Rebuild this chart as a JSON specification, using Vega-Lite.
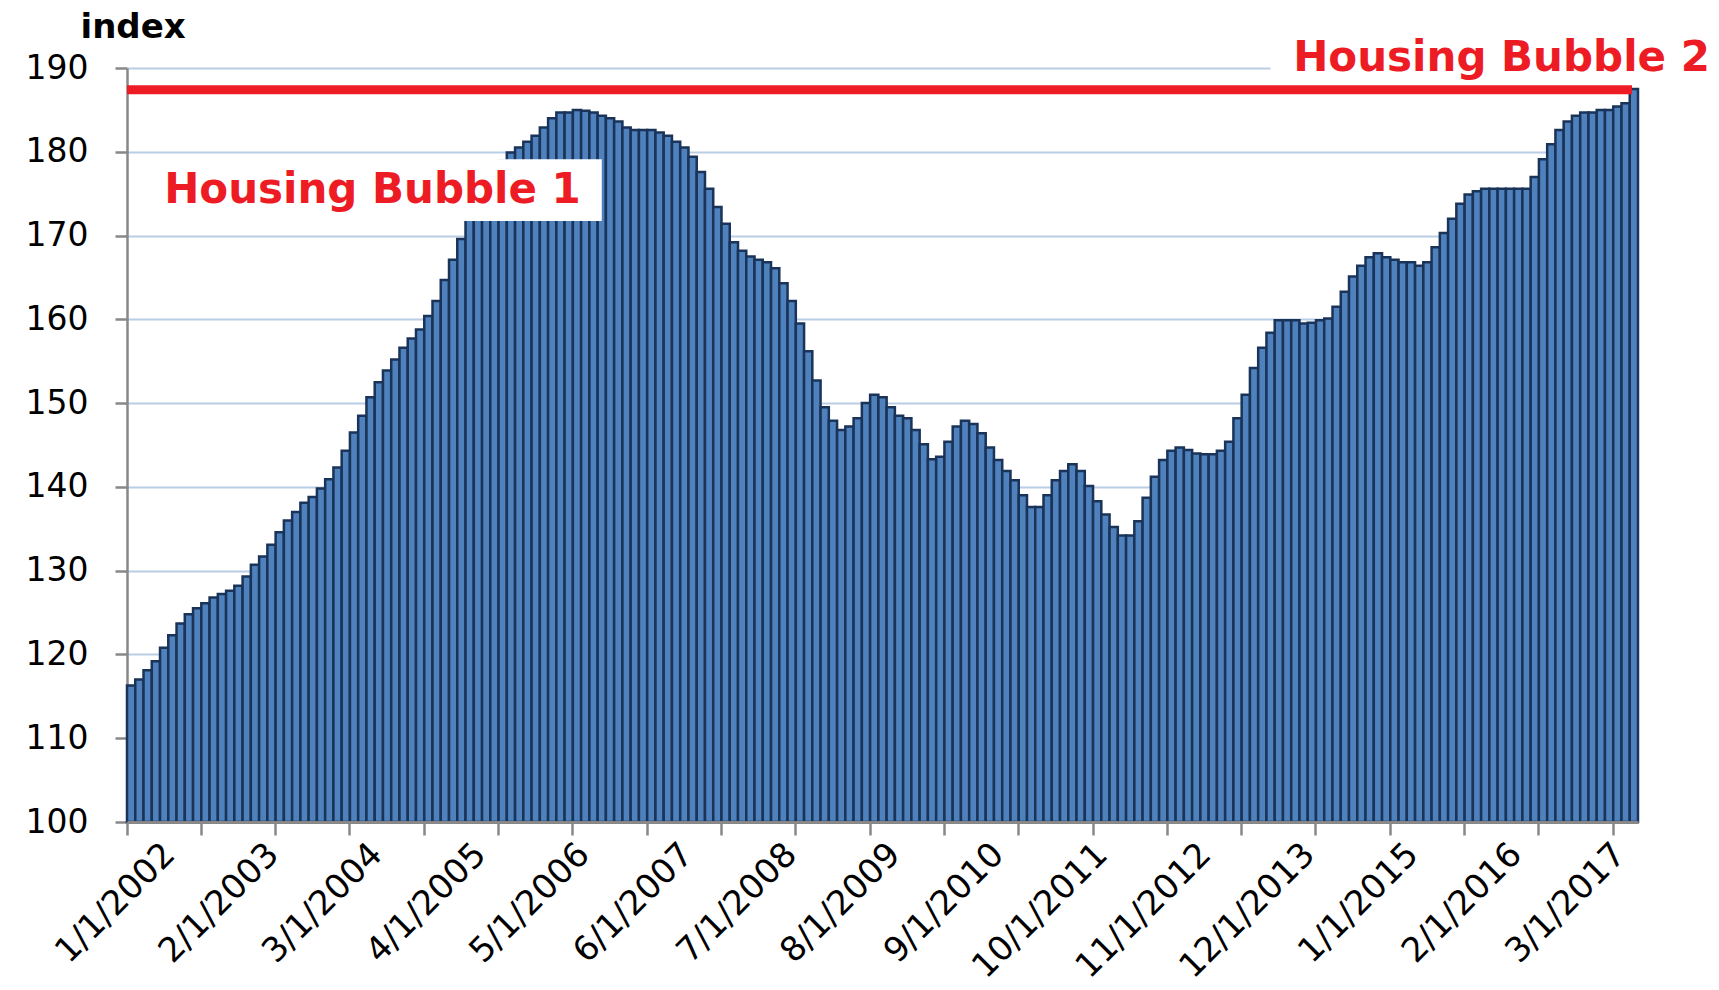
{
  "$schema": "https://vega.github.io/schema/vega-lite/v6.json",
  "autosize": "none",
  "width": 1511,
  "height": 754,
  "padding": {"left": 127, "top": 68, "right": 81, "bottom": 168},
  "background": "white",
  "config": {"view": {"stroke": null}, "font": "DejaVu Sans"},
  "datasets": {
    "hpi": [
      {"month": "1/1/2002", "index": 116.3}, {"month": "2/1/2002", "index": 117.0}, {"month": "3/1/2002", "index": 118.1}, {"month": "4/1/2002", "index": 119.2}, {"month": "5/1/2002", "index": 120.8}, {"month": "6/1/2002", "index": 122.3}, {"month": "7/1/2002", "index": 123.7}, {"month": "8/1/2002", "index": 124.8}, {"month": "9/1/2002", "index": 125.5}, {"month": "10/1/2002", "index": 126.1}, {"month": "11/1/2002", "index": 126.8}, {"month": "12/1/2002", "index": 127.2},
      {"month": "1/1/2003", "index": 127.6}, {"month": "2/1/2003", "index": 128.2}, {"month": "3/1/2003", "index": 129.3}, {"month": "4/1/2003", "index": 130.7}, {"month": "5/1/2003", "index": 131.7}, {"month": "6/1/2003", "index": 133.1}, {"month": "7/1/2003", "index": 134.6}, {"month": "8/1/2003", "index": 136.0}, {"month": "9/1/2003", "index": 137.0}, {"month": "10/1/2003", "index": 138.1}, {"month": "11/1/2003", "index": 138.8}, {"month": "12/1/2003", "index": 139.8},
      {"month": "1/1/2004", "index": 140.9}, {"month": "2/1/2004", "index": 142.3}, {"month": "3/1/2004", "index": 144.3}, {"month": "4/1/2004", "index": 146.5}, {"month": "5/1/2004", "index": 148.5}, {"month": "6/1/2004", "index": 150.7}, {"month": "7/1/2004", "index": 152.5}, {"month": "8/1/2004", "index": 153.9}, {"month": "9/1/2004", "index": 155.2}, {"month": "10/1/2004", "index": 156.6}, {"month": "11/1/2004", "index": 157.7}, {"month": "12/1/2004", "index": 158.8},
      {"month": "1/1/2005", "index": 160.4}, {"month": "2/1/2005", "index": 162.2}, {"month": "3/1/2005", "index": 164.7}, {"month": "4/1/2005", "index": 167.1}, {"month": "5/1/2005", "index": 169.6}, {"month": "6/1/2005", "index": 171.9}, {"month": "7/1/2005", "index": 174.0}, {"month": "8/1/2005", "index": 175.9}, {"month": "9/1/2005", "index": 177.5}, {"month": "10/1/2005", "index": 178.9}, {"month": "11/1/2005", "index": 179.9}, {"month": "12/1/2005", "index": 180.5},
      {"month": "1/1/2006", "index": 181.2}, {"month": "2/1/2006", "index": 181.9}, {"month": "3/1/2006", "index": 182.9}, {"month": "4/1/2006", "index": 184.0}, {"month": "5/1/2006", "index": 184.7}, {"month": "6/1/2006", "index": 184.7}, {"month": "7/1/2006", "index": 185.0}, {"month": "8/1/2006", "index": 184.9}, {"month": "9/1/2006", "index": 184.7}, {"month": "10/1/2006", "index": 184.3}, {"month": "11/1/2006", "index": 184.0}, {"month": "12/1/2006", "index": 183.6},
      {"month": "1/1/2007", "index": 182.9}, {"month": "2/1/2007", "index": 182.6}, {"month": "3/1/2007", "index": 182.6}, {"month": "4/1/2007", "index": 182.6}, {"month": "5/1/2007", "index": 182.3}, {"month": "6/1/2007", "index": 181.9}, {"month": "7/1/2007", "index": 181.2}, {"month": "8/1/2007", "index": 180.5}, {"month": "9/1/2007", "index": 179.4}, {"month": "10/1/2007", "index": 177.6}, {"month": "11/1/2007", "index": 175.6}, {"month": "12/1/2007", "index": 173.4},
      {"month": "1/1/2008", "index": 171.4}, {"month": "2/1/2008", "index": 169.2}, {"month": "3/1/2008", "index": 168.2}, {"month": "4/1/2008", "index": 167.5}, {"month": "5/1/2008", "index": 167.1}, {"month": "6/1/2008", "index": 166.8}, {"month": "7/1/2008", "index": 166.1}, {"month": "8/1/2008", "index": 164.3}, {"month": "9/1/2008", "index": 162.2}, {"month": "10/1/2008", "index": 159.5}, {"month": "11/1/2008", "index": 156.2}, {"month": "12/1/2008", "index": 152.7},
      {"month": "1/1/2009", "index": 149.5}, {"month": "2/1/2009", "index": 147.9}, {"month": "3/1/2009", "index": 146.8}, {"month": "4/1/2009", "index": 147.2}, {"month": "5/1/2009", "index": 148.2}, {"month": "6/1/2009", "index": 150.0}, {"month": "7/1/2009", "index": 151.0}, {"month": "8/1/2009", "index": 150.7}, {"month": "9/1/2009", "index": 149.5}, {"month": "10/1/2009", "index": 148.5}, {"month": "11/1/2009", "index": 148.2}, {"month": "12/1/2009", "index": 146.8},
      {"month": "1/1/2010", "index": 145.1}, {"month": "2/1/2010", "index": 143.3}, {"month": "3/1/2010", "index": 143.6}, {"month": "4/1/2010", "index": 145.4}, {"month": "5/1/2010", "index": 147.2}, {"month": "6/1/2010", "index": 147.9}, {"month": "7/1/2010", "index": 147.5}, {"month": "8/1/2010", "index": 146.4}, {"month": "9/1/2010", "index": 144.7}, {"month": "10/1/2010", "index": 143.2}, {"month": "11/1/2010", "index": 141.9}, {"month": "12/1/2010", "index": 140.8},
      {"month": "1/1/2011", "index": 139.0}, {"month": "2/1/2011", "index": 137.6}, {"month": "3/1/2011", "index": 137.6}, {"month": "4/1/2011", "index": 139.0}, {"month": "5/1/2011", "index": 140.8}, {"month": "6/1/2011", "index": 141.9}, {"month": "7/1/2011", "index": 142.7}, {"month": "8/1/2011", "index": 141.9}, {"month": "9/1/2011", "index": 140.1}, {"month": "10/1/2011", "index": 138.3}, {"month": "11/1/2011", "index": 136.7}, {"month": "12/1/2011", "index": 135.2},
      {"month": "1/1/2012", "index": 134.2}, {"month": "2/1/2012", "index": 134.2}, {"month": "3/1/2012", "index": 135.9}, {"month": "4/1/2012", "index": 138.7}, {"month": "5/1/2012", "index": 141.2}, {"month": "6/1/2012", "index": 143.2}, {"month": "7/1/2012", "index": 144.3}, {"month": "8/1/2012", "index": 144.7}, {"month": "9/1/2012", "index": 144.4}, {"month": "10/1/2012", "index": 144.0}, {"month": "11/1/2012", "index": 143.9}, {"month": "12/1/2012", "index": 143.9},
      {"month": "1/1/2013", "index": 144.3}, {"month": "2/1/2013", "index": 145.4}, {"month": "3/1/2013", "index": 148.2}, {"month": "4/1/2013", "index": 151.0}, {"month": "5/1/2013", "index": 154.2}, {"month": "6/1/2013", "index": 156.6}, {"month": "7/1/2013", "index": 158.4}, {"month": "8/1/2013", "index": 159.9}, {"month": "9/1/2013", "index": 159.9}, {"month": "10/1/2013", "index": 159.9}, {"month": "11/1/2013", "index": 159.5}, {"month": "12/1/2013", "index": 159.6},
      {"month": "1/1/2014", "index": 159.9}, {"month": "2/1/2014", "index": 160.1}, {"month": "3/1/2014", "index": 161.5}, {"month": "4/1/2014", "index": 163.3}, {"month": "5/1/2014", "index": 165.1}, {"month": "6/1/2014", "index": 166.4}, {"month": "7/1/2014", "index": 167.4}, {"month": "8/1/2014", "index": 167.9}, {"month": "9/1/2014", "index": 167.4}, {"month": "10/1/2014", "index": 167.1}, {"month": "11/1/2014", "index": 166.8}, {"month": "12/1/2014", "index": 166.8},
      {"month": "1/1/2015", "index": 166.4}, {"month": "2/1/2015", "index": 166.8}, {"month": "3/1/2015", "index": 168.6}, {"month": "4/1/2015", "index": 170.3}, {"month": "5/1/2015", "index": 172.0}, {"month": "6/1/2015", "index": 173.8}, {"month": "7/1/2015", "index": 174.9}, {"month": "8/1/2015", "index": 175.3}, {"month": "9/1/2015", "index": 175.6}, {"month": "10/1/2015", "index": 175.6}, {"month": "11/1/2015", "index": 175.6}, {"month": "12/1/2015", "index": 175.6},
      {"month": "1/1/2016", "index": 175.6}, {"month": "2/1/2016", "index": 175.6}, {"month": "3/1/2016", "index": 177.0}, {"month": "4/1/2016", "index": 179.1}, {"month": "5/1/2016", "index": 180.9}, {"month": "6/1/2016", "index": 182.6}, {"month": "7/1/2016", "index": 183.6}, {"month": "8/1/2016", "index": 184.3}, {"month": "9/1/2016", "index": 184.7}, {"month": "10/1/2016", "index": 184.7}, {"month": "11/1/2016", "index": 185.0}, {"month": "12/1/2016", "index": 185.0},
      {"month": "1/1/2017", "index": 185.4}, {"month": "2/1/2017", "index": 185.8}, {"month": "3/1/2017", "index": 187.5}
    ]
  },
  "resolve": {"scale": {"x": "independent"}, "axis": {"x": "independent"}},
  "layer": [
    {
      "resolve": {"axis": {"x": "independent"}},
      "layer": [
        {
          "data": {"name": "hpi"},
          "mark": {"type": "bar", "fill": "#4f81bd", "stroke": "#1a3358", "strokeWidth": 2.5},
          "encoding": {
            "x": {
              "field": "month", "type": "ordinal", "sort": null,
              "scale": {"paddingInner": 0, "paddingOuter": 0},
              "axis": {
                "orient": "bottom", "title": null, "grid": false, "labels": false,
                "values": ["1/1/2002", "10/1/2002", "7/1/2003", "4/1/2004", "1/1/2005", "10/1/2005", "7/1/2006", "4/1/2007", "1/1/2008", "10/1/2008", "7/1/2009", "4/1/2010", "1/1/2011", "10/1/2011", "7/1/2012", "4/1/2013", "1/1/2014", "10/1/2014", "7/1/2015", "4/1/2016", "1/1/2017"],
                "bandPosition": 0, "ticks": true, "tickSize": 13, "tickWidth": 2.5, "tickColor": "#888888",
                "domain": true, "domainColor": "#888888", "domainWidth": 3, "zindex": 1
              }
            },
            "y": {
              "field": "index", "type": "quantitative", "title": "index",
              "scale": {"domain": [100, 190], "nice": false, "zero": false},
              "axis": {
                "values": [100, 110, 120, 130, 140, 150, 160, 170, 180, 190],
                "grid": true, "gridColor": "#b9cde5", "gridWidth": 2,
                "domainColor": "#888888", "domainWidth": 2.5,
                "tickColor": "#888888", "tickWidth": 2.5, "tickSize": 12,
                "labelFont": "DejaVu Sans", "labelFontSize": 33, "labelPadding": 27, "labelColor": "#000000",
                "titleAngle": 0, "titleAlign": "left", "titleBaseline": "alphabetic",
                "titleX": -47, "titleY": -31, "titleFont": "DejaVu Sans", "titleFontSize": 34, "titleFontWeight": "bold", "titleColor": "#000000"
              }
            },
            "y2": {"datum": 100}
          }
        },
        {
          "data": {"values": [{"label": "Housing Bubble 1"}]},
          "mark": {"type": "rect", "fill": "white"},
          "encoding": {
            "x": {"datum": "4/1/2002", "type": "ordinal", "axis": null},
            "x2": {"datum": "10/1/2006"},
            "y": {"datum": 171.75, "type": "quantitative", "title": "index"},
            "y2": {"datum": 179.1}
          }
        },
        {
          "data": {"values": [{"label": "Housing Bubble 1"}]},
          "mark": {"type": "text", "color": "#ed1c24", "font": "DejaVu Sans", "fontSize": 42, "fontWeight": "bold", "align": "left", "baseline": "alphabetic"},
          "encoding": {
            "x": {"datum": "5/1/2002", "type": "ordinal", "axis": null},
            "y": {"datum": 173.9, "type": "quantitative", "title": "index"},
            "text": {"field": "label"}
          }
        },
        {
          "data": {"values": [{"label": "Housing Bubble 2"}]},
          "mark": {"type": "rect", "fill": "white", "x2Offset": 10},
          "encoding": {
            "x": {"datum": "7/1/2013", "type": "ordinal", "axis": null},
            "x2": {"datum": "3/1/2017"},
            "y": {"datum": 188.5, "type": "quantitative", "title": "index"},
            "y2": {"datum": 191}
          }
        },
        {
          "data": {"values": [{"level": 187.4}]},
          "mark": {"type": "rule", "color": "#ed1c24", "strokeWidth": 9, "strokeCap": "butt", "xOffset": -6, "x2Offset": 13},
          "encoding": {
            "y": {"field": "level", "type": "quantitative", "title": "index"}
          }
        },
        {
          "data": {"values": [{"label": "Housing Bubble 2"}]},
          "mark": {"type": "text", "color": "#ed1c24", "font": "DejaVu Sans", "fontSize": 42, "fontWeight": "bold", "align": "right", "baseline": "alphabetic", "dx": 76},
          "encoding": {
            "x": {"datum": "3/1/2017", "type": "ordinal", "axis": null},
            "y": {"datum": 189.7, "type": "quantitative", "title": "index"},
            "text": {"field": "label"}
          }
        }
      ]
    },
    {
      "data": {"name": "hpi"},
      "transform": [
        {"filter": {"field": "month", "oneOf": ["1/1/2002", "2/1/2003", "3/1/2004", "4/1/2005", "5/1/2006", "6/1/2007", "7/1/2008", "8/1/2009", "9/1/2010", "10/1/2011", "11/1/2012", "12/1/2013", "1/1/2015", "2/1/2016", "3/1/2017"]}}
      ],
      "mark": {"type": "point", "opacity": 0},
      "encoding": {
        "x": {
          "field": "month", "type": "ordinal", "sort": null,
          "scale": {"type": "point", "padding": 0.2925},
          "axis": {
            "orient": "bottom", "title": null, "grid": false, "ticks": false, "tickSize": 0, "domain": false,
            "labelAngle": -45, "labelAlign": "right", "labelBaseline": "middle", "labelOverlap": false, "labelLimit": 500,
            "labelFont": "DejaVu Sans", "labelFontSize": 34, "labelColor": "#000000", "labelPadding": 27, "labelOffset": 12
          }
        },
        "y": {"field": "index", "type": "quantitative", "title": "index"}
      }
    }
  ]
}
